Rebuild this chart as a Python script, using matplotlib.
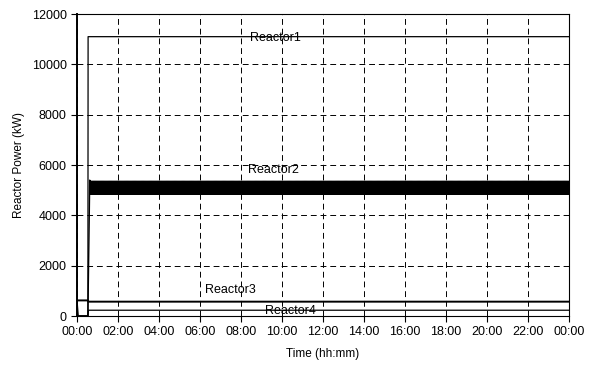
import numpy as np
import matplotlib
matplotlib.use('Agg')
import matplotlib.pyplot as plt

plt.rcParams['font.family'] = ['Liberation Sans', 'DejaVu Sans']

# data (time in hours, power in kW)
r1_time = [0.0, 0.53, 0.54, 24.0]
r1_power = [0, 0, 11100, 11100]

r2_start_time = [0.0, 0.53, 0.62]
r2_start_power = [0, 0, 5400]
r2_cycle = [5350, 4850]   # band limits of the oscillation
r2_cycles = 900

r3_time = [0.0, 0.53, 0.55, 24.0]
r3_power = [620, 620, 570, 570]

r4_time = [0.0, 0.06, 0.53, 0.56, 24.0]
r4_power = [620, 0, 0, 230, 230]

xticks = list(range(0, 25, 2))
xtick_labels = ['00:00', '02:00', '04:00', '06:00', '08:00', '10:00', '12:00',
                '14:00', '16:00', '18:00', '20:00', '22:00', '00:00']
yticks = [0, 2000, 4000, 6000, 8000, 10000, 12000]

labels = ['Reactor1', 'Reactor2', 'Reactor3', 'Reactor4']
label_pos = [(9.66, 11050), (9.6, 5800), (7.5, 1030), (10.4, 200)]

# reactor2 oscillating band
osc = np.tile(r2_cycle, r2_cycles)
osc_t = np.linspace(r2_start_time[-1], 24.0, len(osc))
r2_time = np.concatenate([r2_start_time, osc_t])
r2_power = np.concatenate([r2_start_power, osc])

fig = plt.figure(figsize=(6.07, 3.69), dpi=100)
ax = fig.add_axes([0.1269, 0.1436, 0.8105, 0.8184])

ax.plot(r1_time, r1_power, color='black', lw=0.9)
ax.plot(r2_time, r2_power, color='black', lw=1.0)
ax.plot(r3_time, r3_power, color='black', lw=1.4)
ax.plot(r4_time, r4_power, color='black', lw=0.9)

for name, (x, y) in zip(labels, label_pos):
    ax.text(x, y, name, ha='center', va='center', fontsize=9)

ax.set_xlim(0, 24)
ax.set_ylim(0, 12000)
ax.set_xticks(xticks)
ax.set_xticklabels(xtick_labels)
ax.set_yticks(yticks)
ax.tick_params(labelsize=9, length=4, width=0.8, color='black', direction='out')

ax.grid(True, color='black', lw=0.7, dashes=(6, 4))
ax.set_axisbelow(True)
for s in ax.spines.values():
    s.set_linewidth(0.8)
ax.spines['left'].set_linewidth(1.4)

ax.set_xlabel('Time (hh:mm)', fontsize=8.5, labelpad=7)
ax.set_ylabel('Reactor Power (kW)', fontsize=8.5, labelpad=5)

fig.savefig('out.png', dpi=100)
